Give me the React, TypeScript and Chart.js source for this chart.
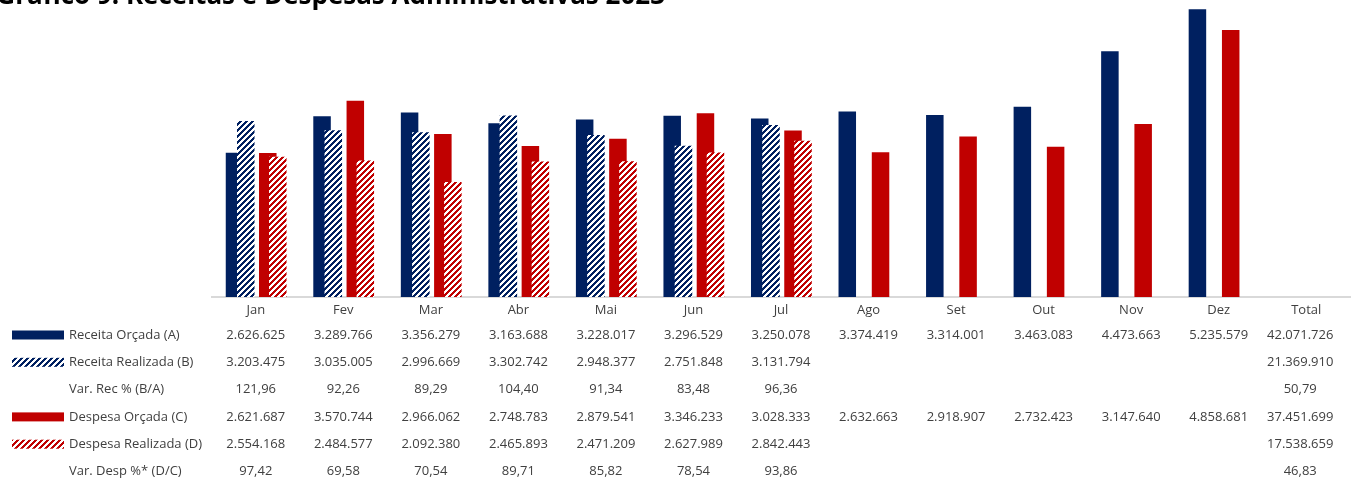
import React, { useEffect, useRef } from 'react';
import { Chart, registerables } from 'chart.js';

Chart.register(...registerables);

const titleText = 'Gráfico 9: Receitas e Despesas Administrativas 2023';
const categories = ['Jan', 'Fev', 'Mar', 'Abr', 'Mai', 'Jun', 'Jul', 'Ago', 'Set', 'Out', 'Nov', 'Dez', 'Total'];
const seriesLabels = ['Receita Orçada (A)', 'Receita Realizada (B)', 'Var. Rec % (B/A)', 'Despesa Orçada (C)', 'Despesa Realizada (D)', 'Var. Desp %* (D/C)'];

const receitaOrcada = [2626625, 3289766, 3356279, 3163688, 3228017, 3296529, 3250078, 3374419, 3314001, 3463083, 4473663, 5235579];
const receitaRealizada = [3203475, 3035005, 2996669, 3302742, 2948377, 2751848, 3131794];
const varRec = [121.96, 92.26, 89.29, 104.4, 91.34, 83.48, 96.36];
const despesaOrcada = [2621687, 3570744, 2966062, 2748783, 2879541, 3346233, 3028333, 2632663, 2918907, 2732423, 3147640, 4858681];
const despesaRealizada = [2554168, 2484577, 2092380, 2465893, 2471209, 2627989, 2842443];
const varDesp = [97.42, 69.58, 70.54, 89.71, 85.82, 78.54, 93.86];

const totalReceitaOrcada = 42071726;
const totalReceitaRealizada = 21369910;
const totalVarRec = 50.79;
const totalDespesaOrcada = 37451699;
const totalDespesaRealizada = 17538659;
const totalVarDesp = 46.83;

const NAVY = '#002060';
const RED = '#C00000';
const TEXT = '#404040';

const fmtInt = (n: number) => String(n).replace(/\B(?=(\d{3})+(?!\d))/g, '.');
const fmtPct = (n: number) => n.toFixed(2).replace('.', ',');

function makeHatch(color: string): CanvasPattern | string {
  const size = 6;
  const c = document.createElement('canvas');
  c.width = size;
  c.height = size;
  const g = c.getContext('2d');
  if (!g) return color;
  g.fillStyle = '#ffffff';
  g.fillRect(0, 0, size, size);
  g.fillStyle = color;
  for (let x = 0; x < size; x++) {
    for (let y = 0; y < size; y++) {
      if ((x + y) % size < 3) g.fillRect(x, y, 1, 1);
    }
  }
  const p = g.createPattern(c, 'repeat');
  return p || color;
}

function rowValues(vals: number[], total: number, fmt: (n: number) => string): string[] {
  const out: string[] = [];
  for (let i = 0; i < categories.length - 1; i++) {
    out.push(i < vals.length ? fmt(vals[i]) : '');
  }
  out.push(fmt(total));
  return out;
}

const SLOT = 87.5;

export default function App() {
  const canvasRef = useRef<HTMLCanvasElement | null>(null);

  useEffect(() => {
    const canvas = canvasRef.current;
    if (!canvas) return;
    const navyHatch = makeHatch(NAVY);
    const redHatch = makeHatch(RED);

    const rows = [
      { label: seriesLabels[0], swatch: NAVY as any, values: rowValues(receitaOrcada, totalReceitaOrcada, fmtInt) },
      { label: seriesLabels[1], swatch: navyHatch as any, values: rowValues(receitaRealizada, totalReceitaRealizada, fmtInt) },
      { label: seriesLabels[2], swatch: null, values: rowValues(varRec, totalVarRec, fmtPct) },
      { label: seriesLabels[3], swatch: RED as any, values: rowValues(despesaOrcada, totalDespesaOrcada, fmtInt) },
      { label: seriesLabels[4], swatch: redHatch as any, values: rowValues(despesaRealizada, totalDespesaRealizada, fmtInt) },
      { label: seriesLabels[5], swatch: null, values: rowValues(varDesp, totalVarDesp, fmtPct) },
    ];

    const tablePlugin = {
      id: 'tableAndTitle',
      afterDraw(chart: any) {
        const ctx = chart.ctx as CanvasRenderingContext2D;
        const xs = chart.scales.x;
        ctx.save();
        ctx.font = 'bold 26px "Open Sans"';
        ctx.fillStyle = '#000000';
        ctx.textAlign = 'left';
        ctx.textBaseline = 'alphabetic';
        const tw = ctx.measureText(titleText).width;
        ctx.fillText(titleText, 665 - tw, 4);

        ctx.font = '13px "Open Sans"';
        const y0 = 335;
        const gap = 27.3;
        rows.forEach((row, r) => {
          const y = y0 + r * gap;
          if (row.swatch) {
            ctx.fillStyle = row.swatch;
            ctx.fillRect(12, y - 4.5, 52, 9);
          }
          ctx.fillStyle = TEXT;
          ctx.textAlign = 'left';
          ctx.textBaseline = 'middle';
          ctx.fillText(row.label, 69, y);
          ctx.textAlign = 'center';
          row.values.forEach((v, i) => {
            if (!v) return;
            const x = xs.getPixelForValue(i) + (i === categories.length - 1 ? -6 : 0);
            ctx.fillText(v, x, y);
          });
        });
        ctx.restore();
      },
    };

    const toPoints = (arr: number[]) => arr.map((v, i) => ({ x: i, y: v }));

    const hiddenLinear = (shiftPx: number) => ({
      type: 'linear',
      display: false,
      offset: false,
      bounds: 'data',
      grid: { offset: false, display: false },
      min: -0.5 - shiftPx / SLOT,
      max: 12.5 - shiftPx / SLOT,
      ticks: { stepSize: 1, includeBounds: false },
    });

    const chart = new Chart(canvas, {
      type: 'bar',
      data: {
        labels: categories,
        datasets: [
          {
            label: seriesLabels[0],
            data: toPoints(receitaOrcada) as any,
            backgroundColor: NAVY,
            xAxisID: 'xa',
            yAxisID: 'y',
            order: 1,
          },
          {
            label: seriesLabels[1],
            data: toPoints(receitaRealizada) as any,
            backgroundColor: navyHatch as any,
            xAxisID: 'xb',
            yAxisID: 'y',
            order: 0,
          },
          {
            label: seriesLabels[3],
            data: toPoints(despesaOrcada) as any,
            backgroundColor: RED,
            xAxisID: 'xc',
            yAxisID: 'y',
            order: 1,
          },
          {
            label: seriesLabels[4],
            data: toPoints(despesaRealizada) as any,
            backgroundColor: redHatch as any,
            xAxisID: 'xd',
            yAxisID: 'y',
            order: 0,
          },
        ],
      },
      options: {
        animation: false,
        responsive: true,
        maintainAspectRatio: false,
        grouped: false,
        categoryPercentage: 1,
        barPercentage: 0.2,
        layout: { padding: { left: 212, right: 7, top: 5, bottom: 0 } },
        plugins: {
          legend: { display: false },
          tooltip: { enabled: false },
          title: { display: false },
        },
        scales: {
          x: {
            type: 'category',
            position: 'bottom',
            offset: true,
            grid: { display: false, drawTicks: false },
            border: { display: true, color: '#d9d9d9', width: 2 },
            ticks: {
              autoSkip: false,
              maxRotation: 0,
              minRotation: 0,
              padding: 5,
              color: TEXT,
              font: { family: '"Open Sans"', size: 13 },
            },
            afterFit: (scale: any) => {
              scale.height = 186;
            },
          },
          xa: hiddenLinear(-21.25),
          xb: hiddenLinear(-10),
          xc: hiddenLinear(12),
          xd: hiddenLinear(22),
          y: {
            type: 'linear',
            display: false,
            min: 0,
            max: 5314000,
          },
        },
      } as any,
      plugins: [tablePlugin as any],
    });

    return () => {
      chart.destroy();
    };
  }, []);

  return (
    <div style={{ position: 'absolute', left: 0, top: 0, width: 1357, height: 483, background: '#ffffff' }}>
      <canvas ref={canvasRef} />
    </div>
  );
}
